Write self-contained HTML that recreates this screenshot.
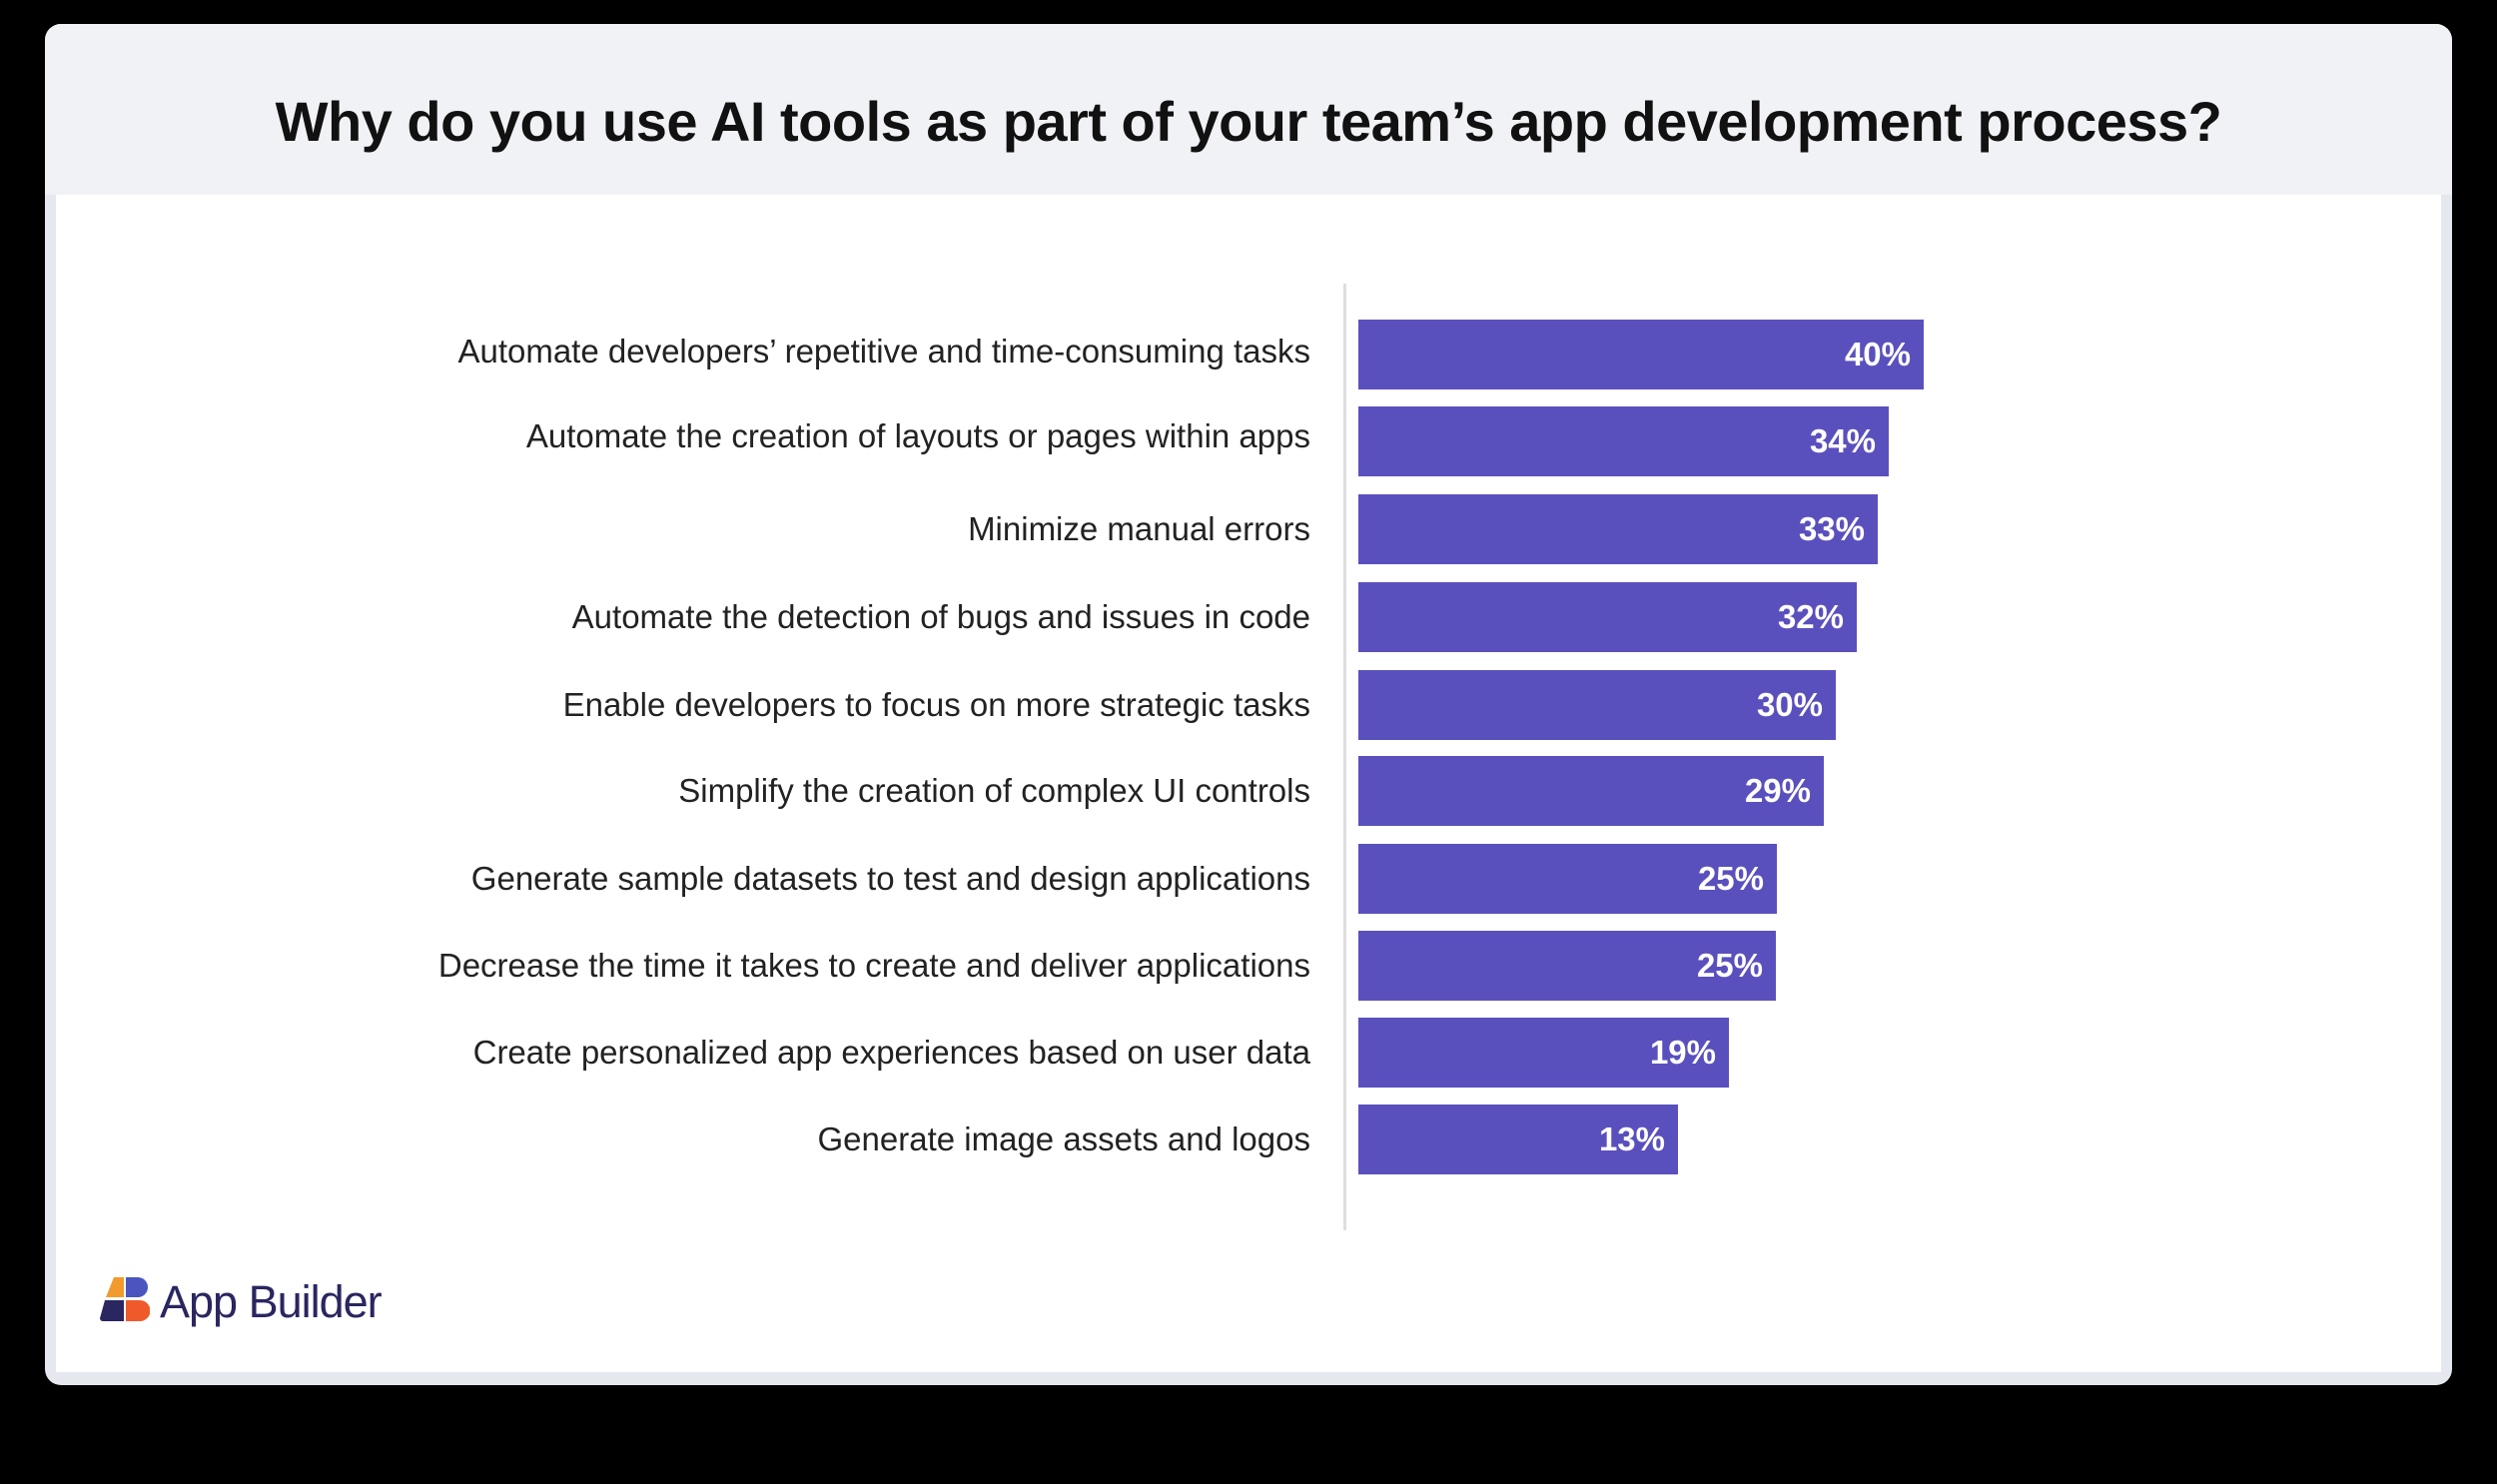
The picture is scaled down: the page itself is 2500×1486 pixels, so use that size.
<!DOCTYPE html>
<html><head><meta charset="utf-8"><style>
html,body{margin:0;padding:0;background:#000;width:2500px;height:1486px;overflow:hidden;font-family:"Liberation Sans",sans-serif}
.card{position:absolute;left:45px;top:24px;width:2410px;height:1363px;background:#e6e8ef;border-radius:16px}
.head{position:absolute;left:0;top:0;width:2410px;height:171px;background:#f1f2f6;border-radius:16px 16px 0 0}
.inner{position:absolute;left:11px;top:171px;width:2388px;height:1179px;background:#fff}
.title{position:absolute;left:0;width:2500px;top:89px;text-align:center;font-size:56px;font-weight:bold;color:#111;letter-spacing:-0.5px}
.axis{position:absolute;left:1345px;top:284px;width:3px;height:948px;background:#dedede}
.lab{position:absolute;right:1188px;font-size:33px;color:#222;white-space:nowrap;transform:translateY(-50%)}
.bar{position:absolute;left:1360px;height:70px;background:#5a50bd;color:#fff;font-weight:bold;font-size:33px;text-align:right;box-sizing:border-box;padding-right:13px;line-height:70px}
</style></head><body>
<div class="card"><div class="head"></div><div class="inner"></div></div>
<div class="title">Why do you use AI tools as part of your team’s app development process?</div>
<div class="axis"></div>

<div class="lab" style="top:352px">Automate developers’ repetitive and time-consuming tasks</div>
<div class="bar" style="top:320px;width:566px">40%</div>
<div class="lab" style="top:437px">Automate the creation of layouts or pages within apps</div>
<div class="bar" style="top:407px;width:531px">34%</div>
<div class="lab" style="top:530px">Minimize manual errors</div>
<div class="bar" style="top:495px;width:520px">33%</div>
<div class="lab" style="top:618px">Automate the detection of bugs and issues in code</div>
<div class="bar" style="top:583px;width:499px">32%</div>
<div class="lab" style="top:706px">Enable developers to focus on more strategic tasks</div>
<div class="bar" style="top:671px;width:478px">30%</div>
<div class="lab" style="top:792px">Simplify the creation of complex UI controls</div>
<div class="bar" style="top:757px;width:466px">29%</div>
<div class="lab" style="top:880px">Generate sample datasets to test and design applications</div>
<div class="bar" style="top:845px;width:419px">25%</div>
<div class="lab" style="top:967px">Decrease the time it takes to create and deliver applications</div>
<div class="bar" style="top:932px;width:418px">25%</div>
<div class="lab" style="top:1054px">Create personalized app experiences based on user data</div>
<div class="bar" style="top:1019px;width:371px">19%</div>
<div class="lab" style="top:1141px">Generate image assets and logos</div>
<div class="bar" style="top:1106px;width:320px">13%</div>

<svg style="position:absolute;left:100px;top:1277px" width="50" height="48" viewBox="0 0 50 48">
<path d="M14 2 H24 V22 H6 Z" fill="#f29a2e"/>
<path d="M26 2 H38 A10 10 0 0 1 38 22 H26 Z" fill="#4a55c0"/>
<path d="M5 25 H24 V46 H3 A3 3 0 0 1 0 43 Z" fill="#2a2660"/>
<path d="M26 25 H40 A10 10 0 0 1 40 46 H26 Z" fill="#ef5a2b"/>
</svg>
<div style="position:absolute;left:160px;top:1278px;font-size:45px;color:#2a2660;letter-spacing:-1px">App Builder</div>
</body></html>
